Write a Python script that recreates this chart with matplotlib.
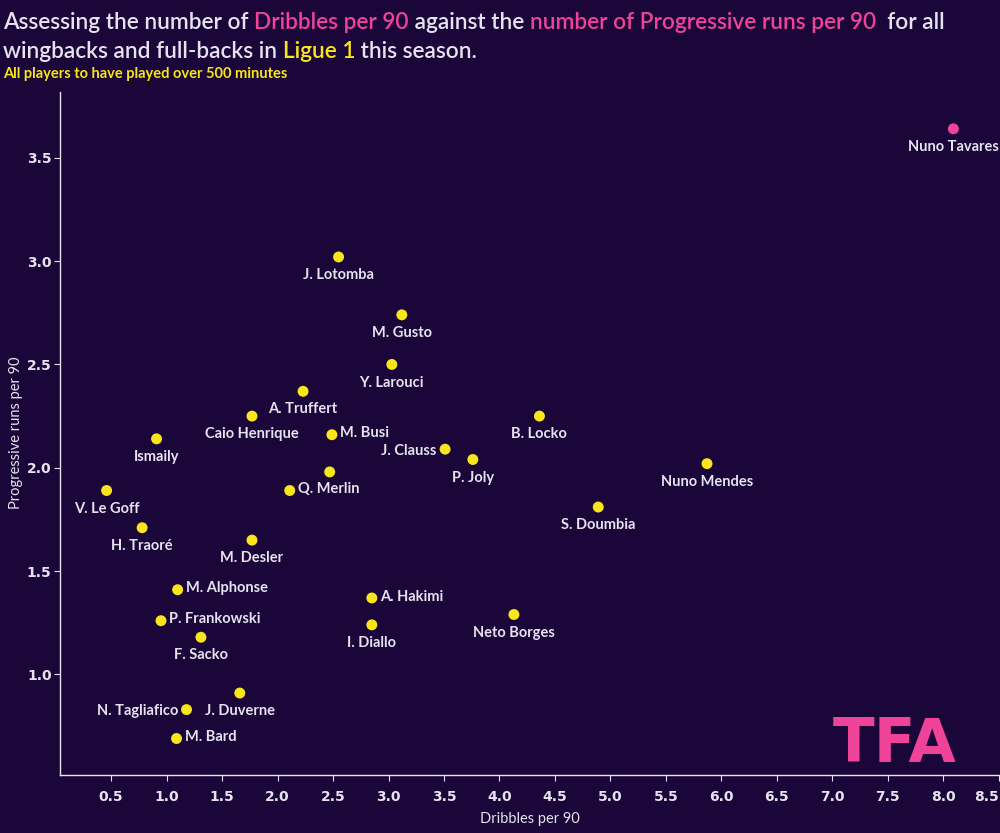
import numpy as np
import matplotlib
matplotlib.use("Agg")
import matplotlib.pyplot as plt

# %%
# Data
players = ["Nuno Tavares", "J. Lotomba", "M. Gusto", "Y. Larouci", "A. Truffert",
           "Caio Henrique", "M. Busi", "Ismaily", "B. Locko", "J. Clauss",
           "P. Joly", "Nuno Mendes", "", "Q. Merlin", "V. Le Goff",
           "S. Doumbia", "H. Traoré", "M. Desler", "M. Alphonse", "A. Hakimi",
           "Neto Borges", "P. Frankowski", "I. Diallo", "F. Sacko", "J. Duverne",
           "N. Tagliafico", "M. Bard"]
dribbles = [8.09, 2.55, 3.12, 3.03, 2.23,
            1.77, 2.49, 0.91, 4.36, 3.51,
            3.76, 5.87, 2.47, 2.11, 0.46,
            4.89, 0.78, 1.77, 1.10, 2.85,
            4.13, 0.95, 2.85, 1.31, 1.66,
            1.18, 1.09]
prog_runs = [3.64, 3.02, 2.74, 2.50, 2.37,
             2.25, 2.16, 2.14, 2.25, 2.09,
             2.04, 2.02, 1.98, 1.89, 1.89,
             1.81, 1.71, 1.65, 1.41, 1.37,
             1.29, 1.26, 1.24, 1.18, 0.91,
             0.83, 0.69]
# where each name sits relative to its dot
label_side = ["below", "below", "below", "below", "below",
              "below", "right", "below", "below", "left",
              "below", "below", "none", "right", "below",
              "below", "below", "below", "right", "right",
              "below", "right", "below", "below", "below",
              "left", "right"]
highlight = "Nuno Tavares"

# %%
BG = "#1a0638"
PINK = "#ee4399"
YELLOW = "#f8e51c"
TXT = "#e6e2ef"

fig = plt.figure(figsize=(10, 8.33), dpi=100, facecolor=BG)
ax = fig.add_axes([0.06, 0.07, 0.94, 0.82], facecolor=BG)

cols = [PINK if p == highlight else YELLOW for p in players]
ax.scatter(dribbles, prog_runs, s=62, c=cols, edgecolors="none", zorder=3)

for name, x, y, side in zip(players, dribbles, prog_runs, label_side):
    if side == "none":
        continue
    kw = dict(color=TXT, fontsize=10.5, fontweight="bold", family="Lato")
    if side == "below":
        ax.annotate(name, (x, y), xytext=(0, -8), textcoords="offset points",
                    ha="center", va="top", **kw)
    elif side == "right":
        ax.annotate(name, (x, y), xytext=(6, 1), textcoords="offset points",
                    ha="left", va="center", **kw)
    else:
        ax.annotate(name, (x, y), xytext=(-6, -1), textcoords="offset points",
                    ha="right", va="center", **kw)

ax.set_xlim(0.04, 8.51)
ax.set_ylim(0.515, 3.82)
ax.set_xticks(np.arange(0.5, 8.51, 0.5))
ax.set_yticks(np.arange(1.0, 3.51, 0.5))
ax.xaxis.set_major_formatter(matplotlib.ticker.FormatStrFormatter("%.1f"))
ax.yaxis.set_major_formatter(matplotlib.ticker.FormatStrFormatter("%.1f"))
ax.tick_params(colors=TXT, labelcolor=TXT, length=4, width=0.8, labelsize=10)
ax.tick_params(axis="x", pad=7)
ax.tick_params(axis="y", pad=2)
for lab in ax.get_xticklabels() + ax.get_yticklabels():
    lab.set_fontweight("bold")
ax.get_xticklabels()[-1].set_ha("right")
for s in ["top", "right"]:
    ax.spines[s].set_visible(False)
for s in ["left", "bottom"]:
    ax.spines[s].set_color(TXT)
    ax.spines[s].set_linewidth(1)

ax.set_xlabel("Dribbles per 90", color=TXT, fontsize=10.5, family="Lato")
ax.set_ylabel("Progressive runs per 90", color=TXT, fontsize=10.5, family="Lato")
ax.xaxis.set_label_coords(0.50, -0.054)
ax.yaxis.set_label_coords(-0.039, 0.5)

# TFA logo
ax.text(0.888, 0.019, "TFA", transform=ax.transAxes, color=PINK, fontsize=44,
        fontweight="heavy", family="DejaVu Sans", ha="center", va="baseline")

# %%
# multi-coloured title
def colored_line(x, y, pieces, size):
    t = fig.text(x, y, pieces[0][0], color=pieces[0][1], fontsize=size,
                 family="Lato", fontweight="semibold", va="baseline")
    for s, c in pieces[1:]:
        t = ax.annotate(s, xy=(1, 0), xycoords=t, va="bottom", ha="left",
                        color=c, fontsize=size, family="Lato", fontweight="semibold",
                        annotation_clip=False)
    return t

colored_line(0.003, 0.965, [("Assessing the number of ", TXT), ("Dribbles per 90", PINK),
                            (" against the ", TXT), ("number of Progressive runs per 90", PINK),
                            ("  for all", TXT)], 16.3)
colored_line(0.003, 0.930, [("wingbacks and full-backs in ", TXT), ("Ligue 1", YELLOW),
                            (" this season.", TXT)], 16.3)
fig.text(0.003, 0.906, "All players to have played over 500 minutes", color=YELLOW,
         fontsize=10.5, family="Lato", fontweight="bold")

fig.savefig("out.png", dpi=100, facecolor=BG)
